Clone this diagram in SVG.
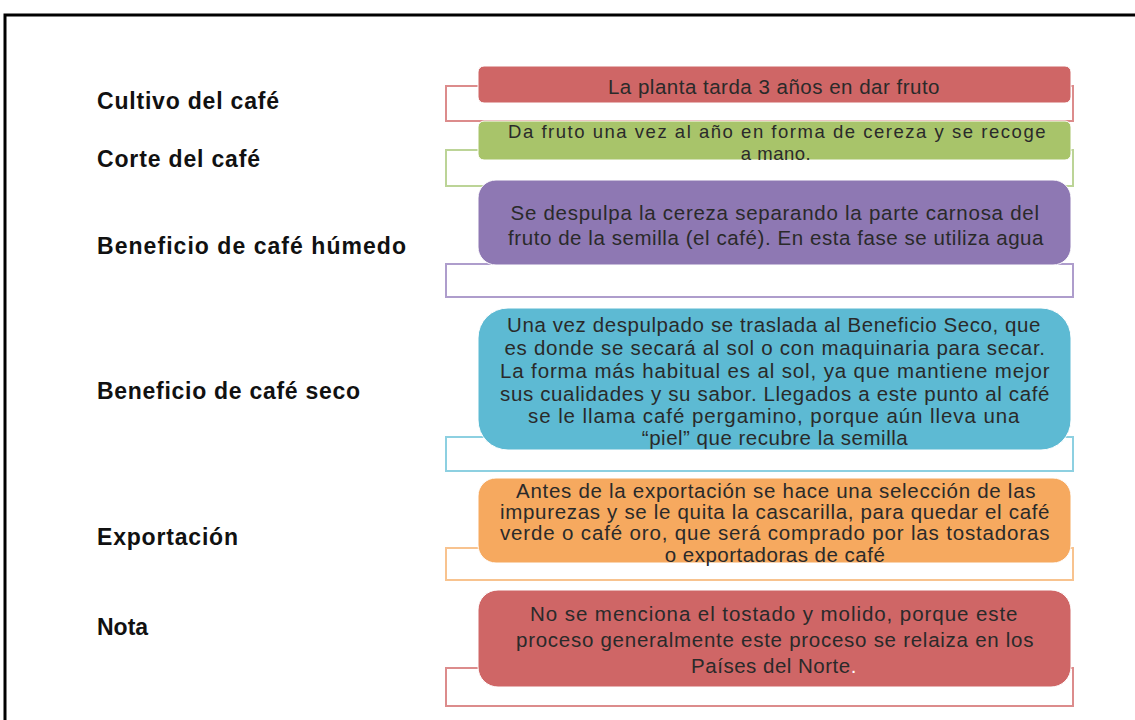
<svg xmlns="http://www.w3.org/2000/svg" width="1135" height="720" viewBox="0 0 1135 720">
<style>
.lbl{font-family:"Liberation Sans",Arial,sans-serif;font-weight:bold;font-size:23px;fill:#111}
.bt{font-family:"Liberation Sans",Arial,sans-serif;font-size:20.5px;fill:#2a2a2a;text-anchor:middle;letter-spacing:0.5px}
.sm{font-size:18.5px}
.ol{fill:none;stroke-width:2}
</style>
<rect width="1135" height="720" fill="#fff"/>
<path d="M5,720 V15 H1135" fill="none" stroke="#000" stroke-width="3"/>
<g id="labels">
<text class="lbl" x="97" y="109" textLength="182" lengthAdjust="spacing">Cultivo del café</text>
<text class="lbl" x="97" y="167" textLength="163" lengthAdjust="spacing">Corte del café</text>
<text class="lbl" x="97" y="254" textLength="309" lengthAdjust="spacing">Beneficio de café húmedo</text>
<text class="lbl" x="97" y="399" textLength="263" lengthAdjust="spacing">Beneficio de café seco</text>
<text class="lbl" x="97" y="545" textLength="141" lengthAdjust="spacing">Exportación</text>
<text class="lbl" x="97" y="635">Nota</text>
</g>
<g id="connectors">
<rect class="ol" x="446" y="86" width="627" height="35" stroke="#DC8C8C"/>
<rect class="ol" x="446" y="150" width="627" height="36" stroke="#BCD497"/>
<rect class="ol" x="446" y="264" width="627" height="33" stroke="#AE9DCC"/>
<rect class="ol" x="446" y="437" width="627" height="34" stroke="#8DD0E1"/>
<rect class="ol" x="446" y="548" width="627" height="32" stroke="#F8C38F"/>
<rect class="ol" x="446" y="668" width="627" height="38" stroke="#DC8C8C"/>
</g>
<g id="n1">
<rect x="478" y="66" width="593" height="37" rx="6" fill="#CF6666" stroke="#fff" stroke-width="1"/>
<text class="bt" x="774" y="94">La planta tarda 3 años en dar fruto</text>
</g>
<g id="n2">
<rect x="478" y="121" width="593" height="39" rx="6" fill="#A8C46A" stroke="#fff" stroke-width="1"/>
<text class="bt sm" x="777" y="138" textLength="538" lengthAdjust="spacing">Da fruto una vez al año en forma de cereza y se recoge</text>
<text class="bt sm" x="776" y="159.5">a mano.</text>
</g>
<g id="n3">
<rect x="478" y="180" width="593" height="85" rx="18" fill="#8E78B3" stroke="#fff" stroke-width="1"/>
<text class="bt" x="775" y="220" textLength="529" lengthAdjust="spacing">Se despulpa la cereza separando la parte carnosa del</text>
<text class="bt" x="776" y="245" textLength="536" lengthAdjust="spacing">fruto de la semilla (el café). En esta fase se utiliza agua</text>
</g>
<g id="n4">
<rect x="478" y="308" width="593" height="142" rx="30" fill="#5DBAD3" stroke="#fff" stroke-width="1"/>
<text class="bt" x="774" y="332" textLength="534" lengthAdjust="spacing">Una vez despulpado se traslada al Beneficio Seco, que</text>
<text class="bt" x="775" y="355" textLength="541" lengthAdjust="spacing">es donde se secará al sol o con maquinaria para secar.</text>
<text class="bt" x="775" y="378" textLength="550" lengthAdjust="spacing">La forma más habitual es al sol, ya que mantiene mejor</text>
<text class="bt" x="775" y="401" textLength="550" lengthAdjust="spacing">sus cualidades y su sabor. Llegados a este punto al café</text>
<text class="bt" x="774" y="423" textLength="492" lengthAdjust="spacing">se le llama café pergamino, porque aún lleva una</text>
<text class="bt" x="775" y="445">“piel” que recubre la semilla</text>
</g>
<g id="n5">
<rect x="478" y="478" width="593" height="85" rx="18" fill="#F6A95F" stroke="#fff" stroke-width="1"/>
<text class="bt" x="776" y="498" textLength="520" lengthAdjust="spacing">Antes de la exportación se hace una selección de las</text>
<text class="bt" x="775" y="519" textLength="550" lengthAdjust="spacing">impurezas y se le quita la cascarilla, para quedar el café</text>
<text class="bt" x="775" y="540" textLength="550" lengthAdjust="spacing">verde o café oro, que será comprado por las tostadoras</text>
<text class="bt" x="775" y="562">o exportadoras de café</text>
</g>
<g id="n6">
<rect x="478" y="590" width="593" height="97" rx="20" fill="#CF6666" stroke="#fff" stroke-width="1"/>
<text class="bt" x="774" y="621" textLength="488" lengthAdjust="spacing">No se menciona el tostado y molido, porque este</text>
<text class="bt" x="775" y="647" textLength="518" lengthAdjust="spacing">proceso generalmente este proceso se relaiza en los</text>
<text class="bt" x="774" y="673">Países del Norte<tspan fill="#fff">.</tspan></text>
</g>
</svg>
